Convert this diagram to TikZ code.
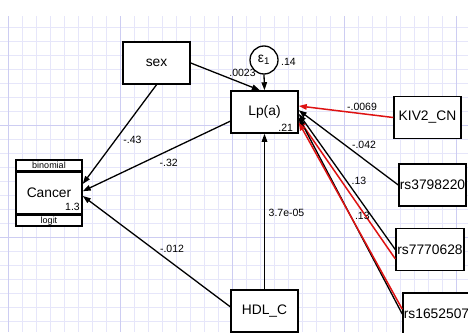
\documentclass[tikz,border=0pt]{standalone}
\usepackage{fontspec}
\setmainfont{Liberation Sans}
\usetikzlibrary{arrows.meta}
\definecolor{gridlo}{RGB}{230,230,250}
\definecolor{gridhi}{RGB}{205,205,242}
\definecolor{selred}{RGB}{222,18,18}

\begin{document}
\begin{tikzpicture}[x=1pt,y=-1pt,font=\fontsize{13.8}{16}\selectfont,
 var/.style={draw,line width=1.5pt,fill=white,minimum width=67pt,minimum height=42pt,inner sep=0pt},
 err/.style={draw,circle,line width=1.3pt,fill=white,minimum size=28pt,inner sep=0pt},
 arr/.style={-{Triangle[length=8pt,width=5.5pt]},line width=1.3pt},
 redarr/.style={arr,draw=selred,line width=1.5pt},
 coef/.style={font=\fontsize{10.5}{12}\selectfont,inner sep=0pt},
 fam/.style={var,minimum width=66pt,minimum height=10.5pt,font=\fontsize{9}{10}\selectfont}]
\useasboundingbox (0,0) rectangle (468,332);
\clip (0,0) rectangle (468,332);
% grid
\foreach \k in {0,...,32}{\draw[gridlo,line width=.7pt] (8+14*\k,16)--(8+14*\k,332);}
\foreach \k in {1,...,22}{\draw[gridlo,line width=.7pt] (0,13.7+14*\k)--(468,13.7+14*\k);}
\foreach \k in {0,...,4}{\draw[gridhi,line width=.7pt] (8+112*\k,16)--(8+112*\k,332);}
\foreach \k in {1,2}{\draw[gridhi,line width=.7pt] (0,13.7+112*\k)--(468,13.7+112*\k);}
% variables
\node[var] (sex) at (156.5,63) {sex};
\node[var] (lpa) at (264.5,112) {Lp(a)};
\node[err] (e1) at (264,60) {ε\textsubscript{1}};
\node[var,minimum width=66pt] (cancer) at (49,193) {Cancer};
\node[fam,anchor=south] (binom) at (cancer.north) {binomial};
\node[fam,anchor=north] (logit) at (cancer.south) {logit};
\node[var] (hdl) at (264.5,311) {HDL\_C};
\node[var] (kiv) at (427.5,117.5) {KIV2\_CN};
\node[var] (rsa) at (432.5,185) {rs3798220};
\node[var,minimum width=68pt] (rsb) at (430,249.5) {rs7770628};
\node[var] (rsc) at (436.5,314) {rs1652507};
% paths
\draw[arr] (sex.east)--(lpa.102);
\draw[arr] (e1.south)--(lpa.north);
\draw[arr] (hdl.north)--(lpa.south);
\draw[arr] (sex.south)--(cancer.15);
\draw[arr] (lpa.195)--(cancer.3);
\draw[arr] (hdl.173)--(cancer.-5);
\draw[redarr] (kiv.west)--(lpa.10);
\draw[arr] (rsa.west)--(lpa.3);
\draw[arr] (rsb.west)--(lpa.-3);
\draw[redarr] (rsb.195)--(lpa.-12);
\draw[arr] (rsc.west)--(lpa.-9);
\draw[redarr] (rsc.172)--(lpa.-17);
% estimates
\foreach \i/\x/\y/\t in {a/242.5/72.5/.0023,b/288.5/61.7/.14,c/285.7/128/.21,d/72.5/206.8/1.3,
  e/132.5/139.7/-.43,f/168.7/163/-.32,g/172/248.5/-.012,h/286.5/212.7/3.7e-05,
  i/362/107/-.0069,j/364/144.5/-.042,k/359/181/.13,l/362.3/216.3/.13}
  {\node[coef] (lab\i) at (\x,\y) {\t};}
\end{tikzpicture}
\end{document}
